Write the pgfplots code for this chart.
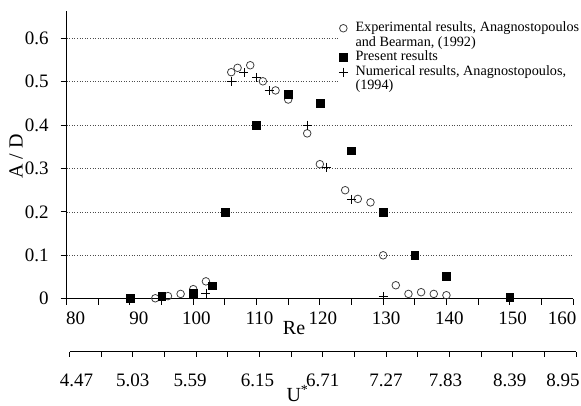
\documentclass[border=0pt]{standalone}
\usepackage{fontspec}
\setmainfont{Liberation Serif}
\usepackage{pgfplots}
\pgfplotsset{compat=1.18}
\newcommand{\lf}{\fontsize{14.2}{15}\selectfont}
\begin{document}
\begin{tikzpicture}
\useasboundingbox (0,0) rectangle (581pt,405pt);
\begin{axis}[
  at={(66.7pt,106.3pt)}, anchor=south west, scale only axis,
  width=506.3pt, height=287.7pt,
  xmin=80, xmax=160, ymin=0, ymax=0.663,
  axis x line*=bottom, axis y line*=left,
  axis line style={line width=1.2pt, black},
  tick align=outside, major tick length=6pt, minor tick length=6pt,
  tick style={black, line width=1pt},
  xtick={80,90,...,160}, minor xtick={85,95,...,155},
  xticklabels={\kern12pt 80,\kern12pt 90,100,110,120,130,140,150,160\kern28pt},
  ytick={0,0.1,0.2,0.3,0.4,0.5,0.6},
  yticklabels={0,0.1,0.2,0.3,0.4,0.5,0.6},
  ticklabel style={font=\fontsize{19}{21}\selectfont},
  xticklabel style={xshift=3pt, yshift=-4pt},
  yticklabel style={xshift=-8.5pt},
  ymajorgrids,
  grid style={line width=0.7pt, gray!60!black, dash pattern=on 1pt off 1.6pt},
  xlabel={Re},
  xlabel style={at={(axis description cs:0.449,-0.1023)}, anchor=center, font=\fontsize{20}{22}\selectfont},
  ylabel={A / D},
  ylabel style={at={(axis description cs:-0.1,0.495)}, anchor=center, font=\fontsize{20}{22}\selectfont},
  legend style={at={(axis cs:122.86,0.6387)}, anchor=north west, draw=none, fill=white,
    inner sep=0pt, row sep=1.6pt,
    nodes={inner sep=0pt, text height=9.8pt, text depth=3.2pt}},
  legend cell align=left,
  legend image code/.code={\path (0pt,0pt) (17pt,0pt); \draw[#1] plot coordinates {(5pt,0pt)};},
]
\addplot[only marks, mark=o, mark size=3.8pt, mark options={line width=0.8pt, draw=black!75}] coordinates {
(94,0.001) (96,0.006) (98,0.011) (100,0.022) (102,0.04)
(106,0.522) (107,0.532) (109,0.538) (111,0.501) (113,0.48) (115,0.459)
(118,0.381) (120,0.31) (124,0.25) (126,0.23) (128,0.222) (130,0.1)
(132,0.031) (134,0.011) (136,0.015) (138,0.011) (140,0.008)
};
\addlegendentry{\lf Experimental results, Anagnostopoulos}
\addlegendimage{empty legend}
\addlegendentry{\lf and Bearman, (1992)}
\addplot[only marks, mark=square*, mark size=3.9pt, mark options={fill=black, draw=black}] coordinates {
(90,0.002) (95,0.005) (100,0.012) (103,0.03) (105,0.2) (110,0.4) (115,0.471)
(120,0.45) (125,0.341) (130,0.2) (135,0.1) (140,0.051) (150,0.003)
};
\addlegendentry{\lf Present results}
\addplot[only marks, mark=+, mark size=4.5pt, mark options={line width=0.8pt, draw=black}] coordinates {
(102,0.013) (106,0.5) (108,0.521) (110,0.51) (112,0.479) (118,0.4) (121,0.303) (125,0.229) (130,0.005)
};
\addlegendentry{\lf Numerical results, Anagnostopoulos,}
\addlegendimage{empty legend}
\addlegendentry{\lf (1994)}
\end{axis}
\begin{axis}[
  at={(69.5pt,53.3pt)}, anchor=south west, scale only axis,
  width=506.5pt, height=10pt,
  xmin=80, xmax=160, ymin=0, ymax=1,
  axis x line*=bottom, axis y line=none,
  axis line style={line width=1.2pt, black},
  tick align=outside, major tick length=5pt, minor tick length=5pt,
  tick style={black, line width=1pt},
  xtick={80,90,...,160}, minor xtick={85,95,...,155},
  xticklabels={\kern14pt 4.47,5.03,5.59\kern12pt,6.15\kern4pt,6.71,7.27,7.83\kern8pt,8.39\kern6pt,8.95\kern26pt},
  ticklabel style={font=\fontsize{19}{21}\selectfont},
  xticklabel style={yshift=-14pt},
  xlabel={U\textsuperscript{*}},
  xlabel style={at={(axis description cs:0.4215,0)}, anchor=base west, yshift=-50pt, font=\fontsize{20}{22}\selectfont},
]
\end{axis}
\end{tikzpicture}
\end{document}
